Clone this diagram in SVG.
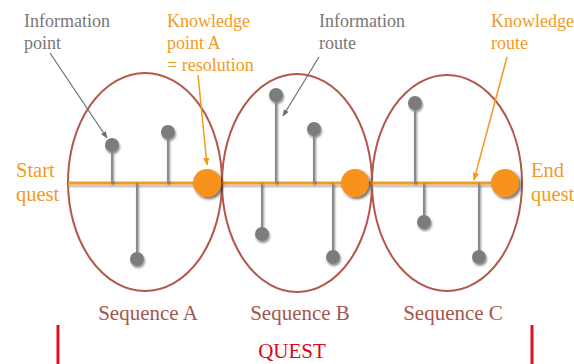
<svg xmlns="http://www.w3.org/2000/svg" width="574" height="364" viewBox="0 0 574 364">
<style>
text{font-family:"Liberation Serif","Times New Roman",serif}
.gray{fill:#777;font-size:18px}
.org{fill:#f39a1e}
.lbl{font-size:18px}
.big{font-size:20.5px}
.seq{fill:#a4564c;font-size:21px}
.ell{fill:none;stroke:#b2594b;stroke-width:2}
.stem{stroke:#8a8a8a;stroke-width:2}
.pin{fill:#7c7c7c}
.kp{fill:#f7931e}
.ga{stroke:#6e6e6e;stroke-width:1.2;fill:none}
.oa{stroke:#f39a1e;stroke-width:1.5;fill:none}
</style>
<defs>
<marker id="ah-g" viewBox="0 0 10 10" refX="9" refY="5" markerWidth="7" markerHeight="7" orient="auto" markerUnits="userSpaceOnUse"><path d="M0,1 L10,5 L0,9 Z" fill="#6e6e6e"/></marker>
<marker id="ah-o" viewBox="0 0 10 10" refX="9" refY="5" markerWidth="8" markerHeight="8" orient="auto" markerUnits="userSpaceOnUse"><path d="M0,1 L10,5 L0,9 Z" fill="#f39a1e"/></marker>
<filter id="sh" x="-50%" y="-50%" width="200%" height="200%"><feGaussianBlur in="SourceAlpha" stdDeviation="1.2"/><feOffset dx="1" dy="1.5" result="b"/><feComponentTransfer><feFuncA type="linear" slope="0.45"/></feComponentTransfer><feMerge><feMergeNode/><feMergeNode in="SourceGraphic"/></feMerge></filter>
<filter id="sh2" x="-50%" y="-50%" width="200%" height="200%"><feGaussianBlur in="SourceAlpha" stdDeviation="1.5"/><feOffset dx="1.5" dy="2"/><feComponentTransfer><feFuncA type="linear" slope="0.6"/></feComponentTransfer><feMerge><feMergeNode/><feMergeNode in="SourceGraphic"/></feMerge></filter>
</defs>
<rect width="574" height="364" fill="#fff"/>

<g id="sequences">
<ellipse class="ell" cx="145" cy="182" rx="77" ry="109"/>
<ellipse class="ell" cx="297" cy="183" rx="75" ry="109"/>
<ellipse class="ell" cx="447" cy="183" rx="75" ry="108"/>
</g>

<g id="quest-line">
<line x1="68" y1="186" x2="510" y2="186" stroke="#a0a0a0" stroke-width="3" opacity="0.55"/>
<line x1="68" y1="183" x2="510" y2="183" stroke="#f39a1e" stroke-width="3"/>
</g>

<g id="info-points" filter="url(#sh)">
<line class="stem" x1="112" y1="145" x2="112" y2="183"/><circle class="pin" cx="112" cy="145" r="7"/>
<line class="stem" x1="168" y1="132" x2="168" y2="183"/><circle class="pin" cx="168" cy="132" r="7"/>
<line class="stem" x1="137" y1="183" x2="137" y2="259"/><circle class="pin" cx="137" cy="259" r="7"/>
<line class="stem" x1="276" y1="95" x2="276" y2="183"/><circle class="pin" cx="276" cy="95" r="7"/>
<line class="stem" x1="314" y1="129" x2="314" y2="183"/><circle class="pin" cx="314" cy="129" r="7"/>
<line class="stem" x1="262" y1="183" x2="262" y2="234"/><circle class="pin" cx="262" cy="234" r="7"/>
<line class="stem" x1="333" y1="183" x2="333" y2="257"/><circle class="pin" cx="333" cy="257" r="7"/>
<line class="stem" x1="415" y1="103" x2="415" y2="183"/><circle class="pin" cx="415" cy="103" r="7"/>
<line class="stem" x1="424" y1="183" x2="424" y2="222"/><circle class="pin" cx="424" cy="222" r="7"/>
<line class="stem" x1="479" y1="183" x2="479" y2="257"/><circle class="pin" cx="479" cy="257" r="7"/>
</g>

<g id="knowledge-points" filter="url(#sh2)">
<circle class="kp" cx="207" cy="183" r="14"/>
<circle class="kp" cx="355" cy="183" r="14"/>
<circle class="kp" cx="505" cy="183" r="14"/>
</g>

<g id="connectors">
<line class="ga" x1="50" y1="53" x2="107" y2="138" marker-end="url(#ah-g)"/>
<line class="oa" x1="198" y1="75" x2="207" y2="165" marker-end="url(#ah-o)"/>
<line class="ga" x1="319" y1="57" x2="283" y2="116" marker-end="url(#ah-g)"/>
<line class="oa" x1="507" y1="57" x2="474" y2="180" marker-end="url(#ah-o)"/>
</g>

<g id="labels">
<text class="gray" x="24" y="27">Information</text>
<text class="gray" x="24" y="49">point</text>
<text class="org lbl" x="167" y="27">Knowledge</text>
<text class="org lbl" x="167" y="49">point A</text>
<text class="org lbl" x="167" y="71">= resolution</text>
<text class="gray" x="319" y="27">Information</text>
<text class="gray" x="319" y="49">route</text>
<text class="org lbl" x="491" y="27">Knowledge</text>
<text class="org lbl" x="491" y="49">route</text>
<text class="org big" x="16" y="177">Start</text>
<text class="org big" x="16" y="201">quest</text>
<text class="org big" x="531" y="177">End</text>
<text class="org big" x="531" y="201">quest</text>
<text class="seq" x="148" y="320" text-anchor="middle">Sequence A</text>
<text class="seq" x="300" y="320" text-anchor="middle">Sequence B</text>
<text class="seq" x="453" y="320" text-anchor="middle">Sequence C</text>
</g>

<g id="quest">
<line x1="58" y1="325" x2="58" y2="364" stroke="#e0101e" stroke-width="3"/>
<line x1="532" y1="325" x2="532" y2="364" stroke="#e0101e" stroke-width="3"/>
<text x="292" y="358" text-anchor="middle" font-size="21" fill="#d4081a">QUEST</text>
</g>
</svg>
